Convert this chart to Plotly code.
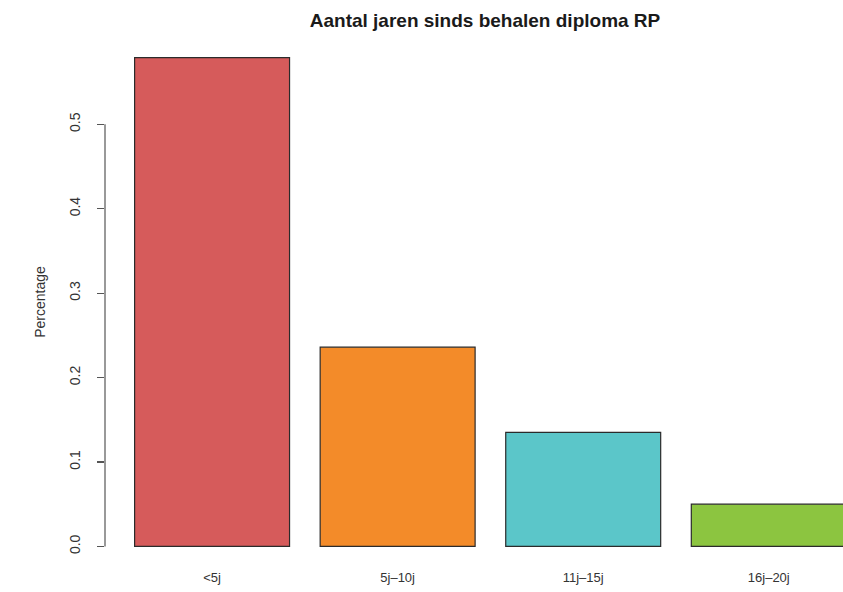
import plotly.graph_objects as go

categories = ["<5j", "5j\u201310j", "11j\u201315j", "16j\u201320j"]
values = [0.579, 0.236, 0.135, 0.050]
colors = ["#D65B5B", "#F38B29", "#5BC6C9", "#8CC540"]
y_ticks = [0.0, 0.1, 0.2, 0.3, 0.4, 0.5]
y_tick_labels = ["0.0", "0.1", "0.2", "0.3", "0.4", "0.5"]

W, H = 843, 592
left, right, top, bottom = 105, 0, 38, 26

fig = go.Figure()
fig.add_trace(go.Bar(
    x=list(range(len(categories))),
    y=values,
    width=0.835,
    marker=dict(color=colors, line=dict(color="#2b2b2b", width=1.2)),
    hoverinfo="skip",
))

fig.add_shape(type="line", xref="paper", yref="y", x0=0, x1=0,
              y0=min(y_ticks), y1=max(y_ticks),
              line=dict(color="#555555", width=1.2), layer="above")

fig.update_layout(
    width=W, height=H,
    margin=dict(l=left, r=right, t=top, b=bottom, autoexpand=False),
    plot_bgcolor="white", paper_bgcolor="white",
    showlegend=False,
    font=dict(family="Liberation Sans, Arial, sans-serif", color="#333333"),
    title=dict(text="<b>Aantal jaren sinds behalen diploma RP</b>",
               x=485 / W, xanchor="center", xref="container",
               y=1 - 20 / H, yanchor="middle", yref="container",
               font=dict(size=19, color="#1a1a1a")),
    xaxis=dict(
        range=[-0.577, 3.40],
        tickvals=list(range(len(categories))),
        ticktext=categories,
        showline=False, showgrid=False, zeroline=False,
        ticks="", tickfont=dict(size=13, color="#333333"),
        ticklabelstandoff=2,
        automargin=False,
    ),
    yaxis=dict(
        range=[-0.0232, 0.6022],
        tickvals=y_ticks, ticktext=y_tick_labels,
        tickangle=-90,
        ticks="outside", ticklen=7, tickcolor="#555555", tickwidth=1.2,
        ticklabelstandoff=11,
        showline=False, showgrid=False, zeroline=False,
        tickfont=dict(size=14, color="#333333"),
        title=dict(text="Percentage", font=dict(size=14, color="#333333"), standoff=18),
        automargin=False,
    ),
)

fig.write_html("out.html",
               config={"displayModeBar": False, "staticPlot": True},
               post_script="document.body.style.margin='0';document.body.style.overflow='hidden';")
